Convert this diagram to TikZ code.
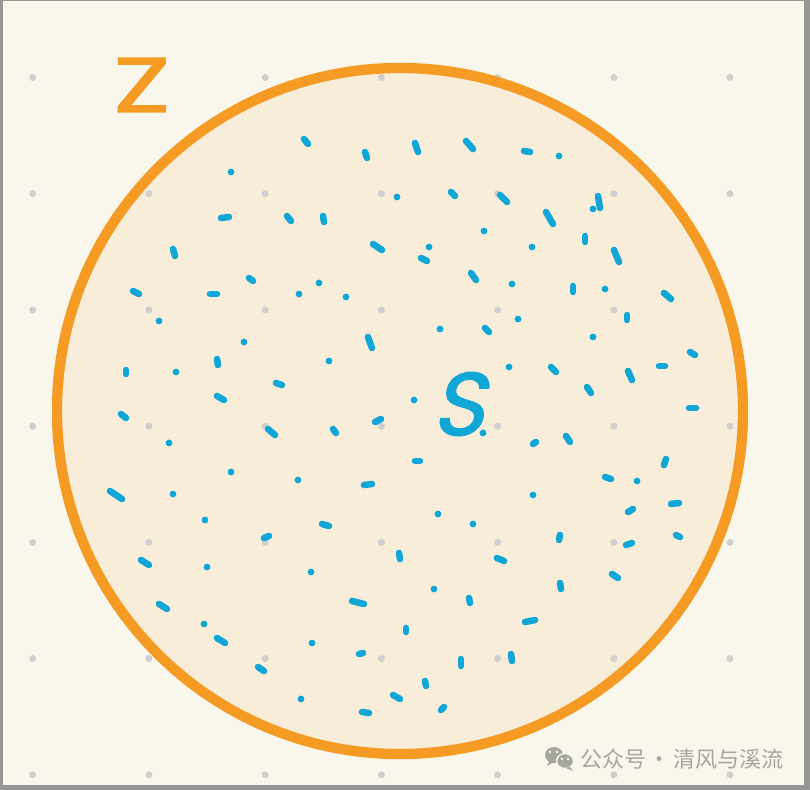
\documentclass[tikz,border=0pt]{standalone}
\usepackage{fontspec}
\setmainfont{Poppins}
\newfontfamily\cjkfont{Noto Sans CJK SC}
\newfontfamily\zfont{Poppins}[FakeBold=1.6]
\newfontfamily\slantfont{Poppins}[FakeSlant=0.22,FakeBold=1.6]
\definecolor{frame}{RGB}{150,150,150}
\definecolor{paper}{RGB}{249,247,235}
\definecolor{peach}{RGB}{248,237,216}
\definecolor{ring}{RGB}{245,154,35}
\definecolor{sky}{RGB}{16,166,214}
\definecolor{griddot}{RGB}{208,207,208}
\definecolor{wmgray}{RGB}{166,166,160}
\tikzset{
  gdot/.style={fill=griddot},
  bdot/.style={fill=sky},
  bdash/.style={draw=sky, line width=5.6pt, line cap=round},
}
\begin{document}
\begin{tikzpicture}[x=0.03cm,y=-0.03cm]
\useasboundingbox (0,0) rectangle (810,790);
\fill[frame] (0,0) rectangle (810,790);
\fill[paper] (3,1) rectangle (804,785);
% set circle
\fill[peach] (400,411) circle[radius=10.29cm];
% grid dots
\foreach \gx in {32.7,148.9,265.2,381.4,497.6,613.8,730}
  \foreach \gy in {77.5,193.7,310,426.2,542.4,658.6,774.8}
    \fill[gdot] (\gx,\gy) circle[radius=3pt];
\draw[ring, line width=8.8pt] (400,411) circle[radius=10.29cm];
% blue dots
\foreach \px/\py in {231/172,559/156,397/197,484/231,429/247,532/247,319/283,512/284,605/289,299/294,346/297,159/321,518/319,244/342,440/329,593/337,329/361,176/372,509/367,414/400,483/433,169/443,231/472,298/480,173/494,205/520,207/567,204/624,301/699,438/514,473/524,311/572,434/589,312/643,637/481,533/495,593/209}
  \fill[bdot] (\px,\py) circle[radius=2.9pt];
% blue dashes
\foreach \ax/\ay/\bx/\by in {304/139/308/144,365/152/367/158,415/143/418/152,466/141/473/149,451/192/455/196,500/195/507/202,598/196/600/208,546/212/553/224,221/218/229/217,287/216/291/221,323/216/324/222,373/244/382/250,421/258/427/261,173/249/175/256,585/236/585/242,614/250/619/262,249/278/253/281,471/273/476/280,573/286/573/292,133/291/139/294,210/294/217/294,664/293/671/299,485/328/489/332,368/337/372/348,217/359/218/365,126/370/126/374,276/383/282/385,217/396/224/400,121/414/126/418,690/352/695/355,551/367/556/372,628/371/632/380,659/366/665/366,587/387/591/393,689/408/696/408,375/422/381/419,268/429/275/435,333/429/336/433,415/461/420/461,364/485/372/484,110/491/122/499,264/538/269/536,322/524/329/526,399/553/400/559,497/558/504/561,141/560/149/565,352/601/364/604,469/598/470/603,159/604/167/609,406/628/406/632,217/638/225/643,359/654/363/653,461/659/461/666,258/667/264/671,425/681/426/686,393/695/400/699,362/712/369/713,441/710/444/707,533/444/536/442,566/436/570/442,664/465/666/459,605/477/611/479,671/504/679/503,628/512/633/509,559/540/560/535,626/545/632/543,676/535/680/537,612/574/618/578,560/583/561/589,525/622/535/620,511/654/512/661,524/151/530/152,627/315/627/320}
  \draw[bdash] (\ax,\ay) -- (\bx,\by);
% labels
\node[text=ring, inner sep=0pt, font=\zfont\fontsize{66}{66}\selectfont] (Zlabel) at (142,85) {\scalebox{1.35}[1]{Z}};
\node[text=sky, inner sep=0pt, font=\slantfont\fontsize{76}{76}\selectfont] (Slabel) at (458,404) {S};
% watermark
\fill[wmgray] (554,755) ellipse[x radius=9, y radius=8];
\fill[wmgray] (549,761) -- (547,766) -- (554,762) -- cycle;
\fill[wmgray, draw=paper, line width=1.2pt] (565,761) ellipse[x radius=8.5, y radius=7.5];
\fill[wmgray] (570,767) -- (573,771) -- (566,768) -- cycle;
\foreach \ex/\ey in {550/752,557/752,562/759,568/759}
  \fill[paper] (\ex,\ey) circle[radius=1.2pt];
\node[text=wmgray, anchor=west, inner sep=0pt, font=\cjkfont\fontsize{18.8}{18.8}\selectfont] (wmtext) at (580,759) {\spaceskip=0.12em\relax 公众号 · 清风与溪流};
\end{tikzpicture}
\end{document}
